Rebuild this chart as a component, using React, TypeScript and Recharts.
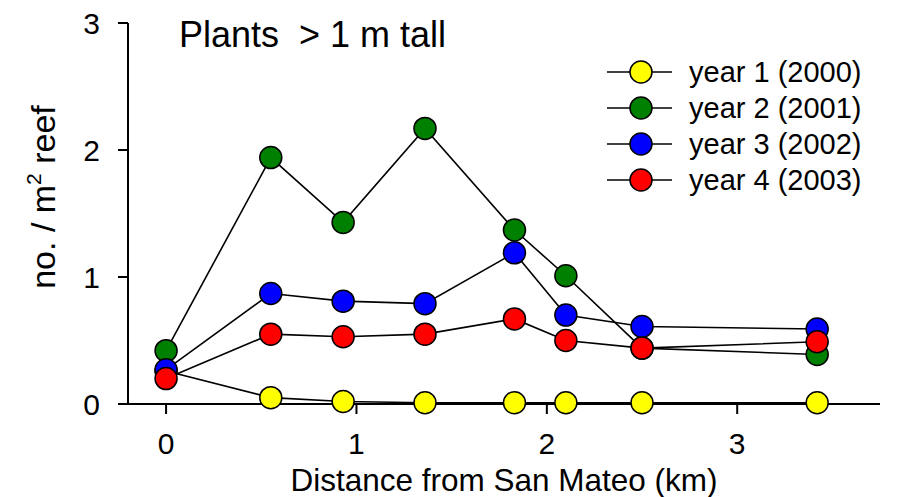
import { LineChart, Line, XAxis, YAxis, Label } from 'recharts';

const distanceKm = [0, 0.55, 0.93, 1.36, 1.83, 2.1, 2.5, 3.42];
const year1 = [0.26, 0.05, 0.02, 0.01, 0.01, 0.01, 0.01, 0.01];
const year2 = [0.42, 1.94, 1.43, 2.17, 1.37, 1.01, 0.44, 0.39];
const year3 = [0.27, 0.87, 0.81, 0.79, 1.19, 0.7, 0.61, 0.59];
const year4 = [0.2, 0.55, 0.53, 0.55, 0.67, 0.5, 0.44, 0.49];

const seriesNames = ['year 1 (2000)', 'year 2 (2001)', 'year 3 (2002)', 'year 4 (2003)'];
const seriesColors = ['#ffff00', '#008000', '#0000ff', '#ff0000'];
const xTicks = [0, 1, 2, 3];
const yTicks = [0, 1, 2, 3];

const FONT = '"Liberation Sans", Arial, sans-serif';

const data = distanceKm.map((d, i) => ({
    d,
    y1: year1[i],
    y2: year2[i],
    y3: year3[i],
    y4: year4[i],
}));

const keys = ['y1', 'y2', 'y3', 'y4'];

function YLabel() {
    const cx = 55;
    const cy = 197;
    return (
        <text
            x={cx}
            y={cy}
            transform={`rotate(-90 ${cx} ${cy})`}
            textAnchor="middle"
            fontFamily={FONT}
            fontSize={34}
            fill="#000"
        >
            no. / m
            <tspan fontSize={21} dy={-14}>2</tspan>
            <tspan dy={14}> reef</tspan>
        </text>
    );
}

export default function App() {
    return (
        <div style={{ position: 'absolute', left: 0, top: 0, width: 902, height: 497, background: '#fff' }}>
            <LineChart
                width={902}
                height={497}
                data={data}
                margin={{ top: 23, right: 22, left: 68, bottom: 0 }}
            >
                <XAxis
                    dataKey="d"
                    type="number"
                    domain={[-0.2, 3.75]}
                    ticks={xTicks}
                    allowDataOverflow
                    height={93}
                    tickSize={10}
                    tickMargin={19}
                    axisLine={{ stroke: '#000', strokeWidth: 2 }}
                    tickLine={{ stroke: '#000', strokeWidth: 2 }}
                    tick={{ fill: '#000', fontSize: 30, fontFamily: FONT }}
                >
                    <Label
                        value="Distance from San Mateo (km)"
                        position="insideBottom"
                        offset={6}
                        style={{ fill: '#000', fontSize: 31.5, fontFamily: FONT }}
                    />
                </XAxis>
                <YAxis
                    type="number"
                    domain={[0, 3]}
                    ticks={yTicks}
                    width={60}
                    tickSize={10}
                    tickMargin={18}
                    axisLine={{ stroke: '#000', strokeWidth: 2 }}
                    tickLine={{ stroke: '#000', strokeWidth: 2 }}
                    tick={{ fill: '#000', fontSize: 30, fontFamily: FONT }}
                >
                    <Label content={<YLabel />} />
                </YAxis>
                {keys.map((k, i) => (
                    <Line
                        key={k}
                        dataKey={k}
                        name={seriesNames[i]}
                        stroke="#000"
                        strokeWidth={1.6}
                        dot={{ r: 11, fill: seriesColors[i], stroke: '#000', strokeWidth: 1.5 }}
                        activeDot={false}
                        isAnimationActive={false}
                    />
                ))}
            </LineChart>
            <svg
                width={902}
                height={497}
                style={{ position: 'absolute', left: 0, top: 0, pointerEvents: 'none' }}
            >
                <text x={179} y={47} fontFamily={FONT} fontSize={36} fill="#000" style={{ whiteSpace: 'pre' }}>
                    {'Plants  > 1 m tall'}
                </text>
                {/* legend: line-through-circle swatch and label per series */}
                {seriesNames.map((name, i) => {
                    const cy = 72 + i * 36;
                    return (
                        <g key={name}>
                            <line x1={607} y1={cy} x2={672} y2={cy} stroke="#000" strokeWidth={1.6} />
                            <circle cx={641} cy={cy} r={11} fill={seriesColors[i]} stroke="#000" strokeWidth={1.5} />
                            <text x={689} y={cy + 10} fontFamily={FONT} fontSize={29} fill="#000">
                                {name}
                            </text>
                        </g>
                    );
                })}
            </svg>
        </div>
    );
}
